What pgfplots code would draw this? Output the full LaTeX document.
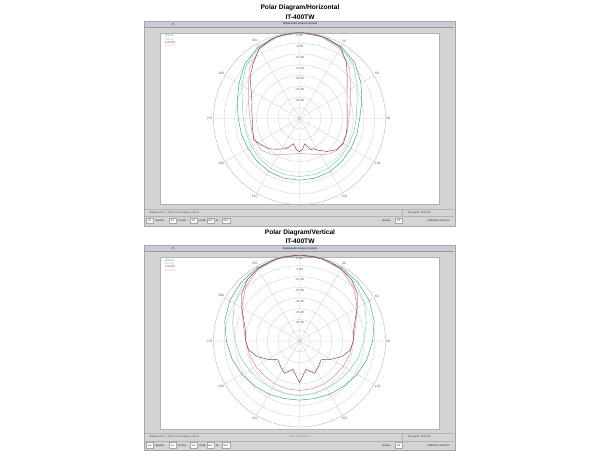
\documentclass[border=0pt]{standalone}
\usepackage{pgfplots}
\pgfplotsset{compat=1.18}
\usepackage{pgfplotstable}
\usepgfplotslibrary{polar}
\usepackage{fontspec}
\setmainfont{Liberation Sans}

\definecolor{cA}{HTML}{3CA064}
\definecolor{cB}{HTML}{7FCFB0}
\definecolor{cC}{HTML}{7E3A62}
\definecolor{cD}{HTML}{D890B8}
\definecolor{frame}{HTML}{D4D4D4}
\definecolor{bar}{HTML}{C9CBD6}

% Horizontal (compass angle a in degrees, level d in dB)
\pgfplotstableread[row sep=\\]{
a d\\ 0 0\\ 15 -0.4\\ 30 -1.3\\ 45 -3.5\\ 60 -7\\ 75 -10\\ 90 -12\\ 105 -12.3\\ 120 -12.3\\ 135 -12\\ 150 -11.5\\ 165 -11.3\\ 180 -11.3\\ 195 -11.3\\ 210 -11.5\\ 225 -12\\ 240 -12.3\\ 255 -12\\ 270 -11.5\\ 285 -10\\ 300 -7.5\\ 315 -4\\ 330 -1.5\\ 345 -0.4\\ 360 0\\
}\hA
\pgfplotstableread[row sep=\\]{
a d\\ 0 0\\ 15 -0.5\\ 30 -1.8\\ 45 -4.5\\ 60 -9\\ 75 -12.3\\ 90 -13.6\\ 105 -14\\ 120 -14\\ 135 -13.7\\ 150 -13.3\\ 165 -13\\ 180 -13\\ 195 -13\\ 210 -13.3\\ 225 -13.7\\ 240 -14\\ 255 -14.3\\ 270 -13.8\\ 285 -12.5\\ 300 -9\\ 315 -5\\ 330 -2\\ 345 -0.5\\ 360 0\\
}\hB
\pgfplotstableread[row sep=\\]{
a d\\ 0 0\\ 10 -0.2\\ 20 -0.6\\ 30 -1.8\\ 40 -6\\ 50 -11\\ 60 -14.5\\ 70 -16.5\\ 80 -17.5\\ 90 -17.8\\ 100 -17.5\\ 110 -17\\ 120 -16.5\\ 130 -17.5\\ 140 -20\\ 150 -23\\ 155 -24.5\\ 160 -24.5\\ 168 -28\\ 175 -25.5\\ 180 -24.5\\ 186 -25.5\\ 193 -28\\ 200 -26\\ 205 -24.5\\ 215 -22.6\\ 225 -20\\ 235 -18.5\\ 245 -16.5\\ 255 -17.5\\ 265 -18\\ 270 -18\\ 280 -17.5\\ 290 -16.5\\ 300 -14\\ 310 -10\\ 320 -6.5\\ 330 -2.5\\ 340 -0.8\\ 350 -0.2\\ 360 0\\
}\hC
\pgfplotstableread[row sep=\\]{
a d\\ 0 0\\ 15 -0.6\\ 30 -2.5\\ 45 -7\\ 60 -12.5\\ 75 -15.5\\ 90 -17\\ 105 -17\\ 120 -17\\ 130 -17\\ 140 -18.5\\ 150 -20.5\\ 160 -22.3\\ 170 -23.3\\ 180 -23.7\\ 190 -23.3\\ 200 -22.3\\ 210 -20.5\\ 220 -18.5\\ 230 -17\\ 240 -17\\ 255 -17\\ 270 -17\\ 285 -15.5\\ 300 -12.5\\ 315 -7\\ 330 -2.5\\ 345 -0.6\\ 360 0\\
}\hD
% Vertical
\pgfplotstableread[row sep=\\]{
a d\\ 0 0\\ 15 -0.2\\ 30 -0.6\\ 45 -1.5\\ 60 -2.5\\ 75 -4\\ 90 -6\\ 105 -7.5\\ 120 -9\\ 135 -10.5\\ 150 -11.5\\ 165 -12.3\\ 180 -12.5\\ 195 -12.3\\ 210 -11.5\\ 225 -10.5\\ 240 -9\\ 255 -7.5\\ 270 -6\\ 285 -4\\ 300 -2.5\\ 315 -1.5\\ 330 -0.6\\ 345 -0.2\\ 360 0\\
}\vA
\pgfplotstableread[row sep=\\]{
a d\\ 0 0\\ 15 -0.3\\ 30 -1.2\\ 45 -2.8\\ 60 -5\\ 75 -7.8\\ 90 -10\\ 105 -11.5\\ 120 -13\\ 135 -14\\ 150 -14.5\\ 165 -14.6\\ 180 -14.5\\ 195 -14.6\\ 210 -14.5\\ 225 -14\\ 240 -13\\ 255 -11.5\\ 270 -10\\ 285 -7.8\\ 300 -5\\ 315 -2.8\\ 330 -1.2\\ 345 -0.3\\ 360 0\\
}\vB
\pgfplotstableread[row sep=\\]{
a d\\ 0 0\\ 10 -0.2\\ 20 -0.5\\ 30 -1.2\\ 40 -2.5\\ 50 -5\\ 60 -9\\ 70 -12.5\\ 80 -14.5\\ 90 -15\\ 100 -16\\ 110 -19\\ 120 -23\\ 131 -26.7\\ 145 -25\\ 155 -23.4\\ 167 -26.5\\ 180 -20.6\\ 193 -26.5\\ 205 -23.4\\ 215 -25\\ 229 -26.7\\ 240 -23\\ 250 -19\\ 260 -16\\ 270 -15\\ 280 -14.5\\ 290 -12.5\\ 300 -9\\ 310 -5\\ 320 -2.5\\ 330 -1.2\\ 340 -0.5\\ 350 -0.2\\ 360 0\\
}\vC
\pgfplotstableread[row sep=\\]{
a d\\ 0 0\\ 15 -0.4\\ 30 -1.5\\ 45 -4.5\\ 60 -9\\ 75 -13\\ 90 -15\\ 105 -15.8\\ 120 -16.5\\ 135 -17\\ 150 -17\\ 165 -17\\ 180 -17\\ 195 -17\\ 210 -17\\ 225 -17\\ 240 -16.5\\ 255 -15.8\\ 270 -15\\ 285 -13\\ 300 -9\\ 315 -4.5\\ 330 -1.5\\ 345 -0.4\\ 360 0\\
}\vD

\pgfplotsset{
  mypolar/.style={
    anchor=center, scale only axis, width=172pt, height=172pt,
    ymin=0, ymax=40, ytick={5,10,...,35}, yticklabels={},
    xtick={0,30,...,330},
    xticklabels={90,60,30,,330,300,270,240,210,,150,120},
    grid=major, major grid style={draw=gray!40, line width=0.3pt},
    separate axis lines,
    x axis line style={draw=gray!55, line width=0.4pt},
    y axis line style={draw=none},
    major tick length=0pt,
    xticklabel style={font=\fontsize{3.3}{4}\selectfont, text=gray!80!black, inner sep=0.8pt},
    every axis plot/.append style={line width=0.45pt, mark=none},
  },
  /pgfplots/table/pl/.style={x expr=90-\thisrow{a}, y expr=\thisrow{d}+40},
}
\tikzset{dbl/.style={font=\fontsize{3}{3.5}\selectfont, text=gray!80!black, inner sep=0pt}}

\newcommand{\panel}[3]{% #1 y offset, #2 title, #3 watermark
  \node[font=\bfseries\fontsize{6.6}{7}\selectfont] at (300,-#1-8) {#2};
  \node[font=\bfseries\fontsize{6.6}{7}\selectfont] at (300,-#1-17) {IT-400TW};
  \fill[frame] (144,-#1-21) rectangle (455,-#1-226);
  \draw[gray!70, line width=0.3pt] (144,-#1-21) rectangle (455,-#1-226);
  \fill[bar] (145,-#1-21.5) rectangle (454,-#1-27);
  \draw[gray!80, line width=0.3pt] (145,-#1-27) -- (454,-#1-27);
  \node[font=\fontsize{2.6}{3}\selectfont, text=blue!50!black] at (300,-#1-24.2) {Digital Audio Analysis System};
  \node[font=\fontsize{2.8}{3}\selectfont, text=black!70] at (173,-#1-24.2) {25};
  \fill[white] (160,-#1-33) rectangle (439,-#1-204.5);
  \draw[gray!60, line width=0.3pt] (160,-#1-33) rectangle (439,-#1-204.5);
  \draw[gray!60, line width=0.3pt] (145,-#1-209) -- (454,-#1-209);
  \draw[gray!60, line width=0.3pt] (145,-#1-216.5) -- (454,-#1-216.5);
  \draw[gray!60, line width=0.3pt] (402,-#1-209) -- (402,-#1-216.5);
  \node[font=\fontsize{2.4}{3}\selectfont, anchor=west, text=black!80] at (146,-#1-212.8) {Distance Pos 1 - Pos 2: 0.0 m, Delay: 0.00 ms};
  \node[font=\fontsize{2.4}{3}\selectfont, anchor=west, text=black!80] at (404,-#1-212.8) {Test Signal: PINK NS};
  \node[font=\fontsize{2.4}{3}\selectfont, text=black!45] at (300,-#1-212.8) {#3};
  \foreach \xa/\xb/\t in {146/153/H1,169/176/R1,190/197/CH,207/214/OFF,222/230/OFF,395/402/Off}{
    \fill[white] (\xa,-#1-218) rectangle (\xb,-#1-223.5);
    \draw[gray!70, line width=0.25pt] (\xa,-#1-218) rectangle (\xb,-#1-223.5);
    \node[font=\fontsize{2.3}{3}\selectfont] at ({(\xa+\xb)/2},-#1-220.8) {\t};
  }
  \node[font=\fontsize{2.3}{3}\selectfont, anchor=west, inner sep=0.5pt] at (155,-#1-220.8) {Smooth};
  \node[font=\fontsize{2.3}{3}\selectfont, anchor=west, inner sep=0.5pt] at (177.5,-#1-220.8) {75.13\%};
  \node[font=\fontsize{2.3}{3}\selectfont, anchor=west, inner sep=0.5pt] at (198,-#1-220.8) {-20 dB};
  \node[font=\fontsize{2.3}{3}\selectfont, anchor=west, inner sep=0.5pt] at (215.5,-#1-220.8) {40};
  \node[font=\fontsize{2.3}{3}\selectfont, anchor=east] at (394,-#1-220.8) {Notches};
  \node[font=\fontsize{2.3}{3}\selectfont, anchor=east] at (453,-#1-220.8) {2008-09-01 12:49 1/3};
  \node[font=\fontsize{2.6}{3}\selectfont, anchor=west, text=cA] at (161.5,-#1-36) {4000Hz};
  \node[font=\fontsize{2.6}{3}\selectfont, anchor=west, text=cB] at (161.5,-#1-39.2) {8000Hz};
  \node[font=\fontsize{2.6}{3}\selectfont, anchor=west, text=cC!70!magenta] at (161.5,-#1-42.4) {12000Hz};
  \node[font=\fontsize{2.6}{3}\selectfont, anchor=west, text=cD!70] at (161.5,-#1-45.6) {16000Hz};
}

\newcommand{\dblabels}{%
  \node[dbl] at (axis cs:90,38.5) {0 dB};
  \node[dbl] at (axis cs:90,33.5) {-5 dB};
  \node[dbl] at (axis cs:90,28.5) {-10 dB};
  \node[dbl] at (axis cs:90,23.5) {-15 dB};
  \node[dbl] at (axis cs:90,18.5) {-20 dB};
  \node[dbl] at (axis cs:90,13.5) {-25 dB};
  \node[dbl] at (axis cs:90,8.5) {-30 dB};
}

\begin{document}
\begin{tikzpicture}[x=1pt,y=1pt]
\fill[white] (0,0) rectangle (600,-450);
\panel{0}{Polar Diagram/Horizontal}{}
\panel{224.5}{Polar Diagram/Vertical}{www.audio-HIFI.pl}

\begin{polaraxis}[mypolar, at={(299.5pt,-118.5pt)}]
  \addplot[cB] table[pl] {\hB};
  \addplot[cA] table[pl] {\hA};
  \addplot[cD] table[pl] {\hD};
  \addplot[cC] table[pl] {\hC};
  \dblabels
\end{polaraxis}

\begin{polaraxis}[mypolar, at={(299.5pt,-341pt)}]
  \addplot[cB] table[pl] {\vB};
  \addplot[cA] table[pl] {\vA};
  \addplot[cD!85!red] table[pl] {\vD};
  \addplot[cC] table[pl] {\vC};
  \dblabels
\end{polaraxis}
\end{tikzpicture}
\end{document}
